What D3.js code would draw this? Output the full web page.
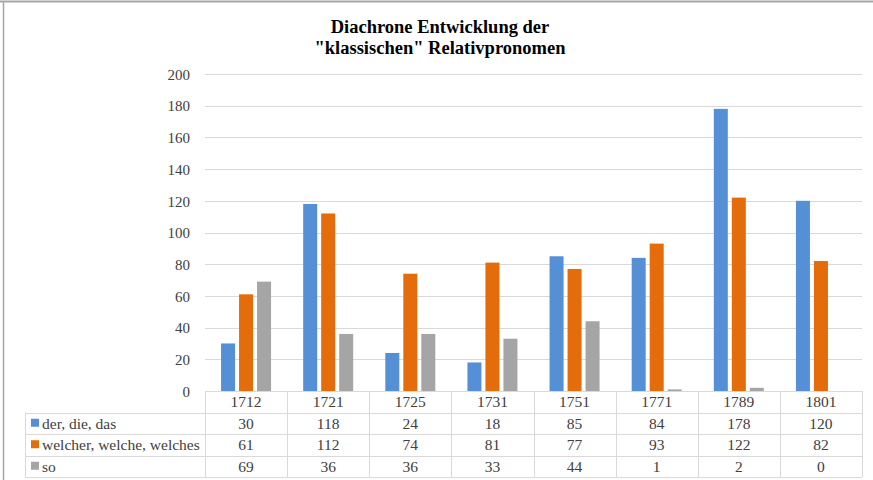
<!DOCTYPE html>
<html>
<head>
<meta charset="utf-8">
<script src="https://cdn.jsdelivr.net/npm/d3@7/dist/d3.min.js"></script>
<style>
  html, body { margin: 0; padding: 0; background: #fff; }
  svg { display: block; }
</style>
</head>
<body>
<script>
// Data
const years = ["1712", "1721", "1725", "1731", "1751", "1771", "1789", "1801"];
const seriesNames = ["der, die, das", "welcher, welche, welches", "so"];
const derDieDas = [30, 118, 24, 18, 85, 84, 178, 120];
const welcher = [61, 112, 74, 81, 77, 93, 122, 82];
const so = [69, 36, 36, 33, 44, 1, 2, 0];
const yTicks = [0, 20, 40, 60, 80, 100, 120, 140, 160, 180, 200];
const colors = ["#5590D6", "#E46C0A", "#A5A5A5"];

const seriesValues = [derDieDas, welcher, so];
const FONT = "Liberation Serif";

const W = 873, H = 480;
const svg = d3.select("body").append("svg").attr("width", W).attr("height", H);

// Frame edges
svg.append("line").attr("x1", 0).attr("x2", W).attr("y1", 1.5).attr("y2", 1.5)
  .attr("stroke", "#a6a6a6").attr("stroke-width", 2);
svg.append("line").attr("x1", 3.5).attr("x2", 3.5).attr("y1", 1).attr("y2", H)
  .attr("stroke", "#a6a6a6").attr("stroke-width", 1.5);

// Title
const title = svg.append("text").attr("text-anchor", "middle")
  .style("font-family", FONT)
  .attr("font-weight", "bold").attr("font-size", 18.5).attr("fill", "#000");
title.append("tspan").attr("x", 440).attr("y", 33).text("Diachrone Entwicklung der");
title.append("tspan").attr("x", 440).attr("y", 54).text("\"klassischen\" Relativpronomen");

// Scales
const plotLeft = 205, plotRight = 862, plotTop = 74, plotBottom = 391;
const x = d3.scaleBand().domain(years).range([plotLeft, plotRight]);
const y = d3.scaleLinear().domain([0, 200]).range([plotBottom, plotTop]);
const xInner = d3.scaleBand().domain(seriesNames).range([-27, 27])
  .paddingInner(0.222).paddingOuter(0.111);

// Gridlines
svg.append("g").selectAll("line").data(yTicks.filter(d => d > 0)).join("line")
  .attr("x1", plotLeft).attr("x2", plotRight)
  .attr("y1", d => Math.round(y(d)) + 0.5).attr("y2", d => Math.round(y(d)) + 0.5)
  .attr("stroke", "#d9d9d9").attr("stroke-width", 1);

// Y axis labels
const yAxis = d3.axisLeft(y).tickValues(yTicks).tickSize(0).tickPadding(0);
const gy = svg.append("g").attr("transform", "translate(190,0)").call(yAxis)
  .attr("font-family", null).attr("font-size", 15);
gy.select(".domain").remove();
gy.selectAll("text").attr("fill", "#404040").attr("dy", "0.35em")
  .style("font-family", FONT);

// Bars
const groups = svg.append("g").selectAll("g").data(years).join("g")
  .attr("transform", d => `translate(${x(d) + x.bandwidth() / 2},0)`);
groups.selectAll("rect")
  .data((yr, i) => seriesNames.map((s, k) => ({ s, k, v: seriesValues[k][i] })))
  .join("rect")
  .attr("x", d => xInner(d.s))
  .attr("width", xInner.bandwidth())
  .attr("y", d => y(d.v))
  .attr("height", d => Math.max(0, y(0) - y(d.v)))
  .attr("fill", d => colors[d.k]);

// Data table
const rowH = 21.5;
const headerTop = plotBottom;
const tableLeft = 25;
const tableBottom = headerTop + rowH * 4;
const grid = svg.append("g").attr("stroke", "#d9d9d9").attr("stroke-width", 1);
grid.append("line").attr("x1", plotLeft).attr("x2", plotRight)
  .attr("y1", headerTop + 0.5).attr("y2", headerTop + 0.5);
for (let r = 1; r <= 4; r++) {
  const yy = Math.round(headerTop + rowH * r) + 0.5;
  grid.append("line").attr("x1", tableLeft).attr("x2", plotRight).attr("y1", yy).attr("y2", yy);
}
grid.append("line").attr("x1", tableLeft + 0.5).attr("x2", tableLeft + 0.5)
  .attr("y1", headerTop + rowH).attr("y2", tableBottom);
years.forEach(yr => {
  const xx = Math.round(x(yr)) + 0.5;
  grid.append("line").attr("x1", xx).attr("x2", xx).attr("y1", headerTop).attr("y2", tableBottom);
});
grid.append("line").attr("x1", plotRight + 0.5).attr("x2", plotRight + 0.5)
  .attr("y1", headerTop).attr("y2", tableBottom);

const tbl = svg.append("g").style("font-family", FONT).attr("font-size", 15.5).attr("fill", "#404040");
tbl.selectAll("text.yr").data(years).join("text").attr("class", "yr")
  .attr("x", d => x(d) + x.bandwidth() / 2).attr("y", headerTop + rowH / 2)
  .attr("dy", "0.35em").attr("text-anchor", "middle").text(d => d);
seriesNames.forEach((name, k) => {
  const cy = headerTop + rowH * (k + 1) + rowH / 2;
  tbl.append("rect").attr("x", 31).attr("y", cy - 4.5).attr("width", 8).attr("height", 8)
    .attr("fill", colors[k]);
  tbl.append("text").attr("x", 42).attr("y", cy).attr("dy", "0.35em").text(name);
  tbl.selectAll(null).data(years).join("text")
    .attr("x", d => x(d) + x.bandwidth() / 2).attr("y", cy)
    .attr("dy", "0.35em").attr("text-anchor", "middle")
    .text((d, i) => seriesValues[k][i]);
});
</script>
</body>
</html>
